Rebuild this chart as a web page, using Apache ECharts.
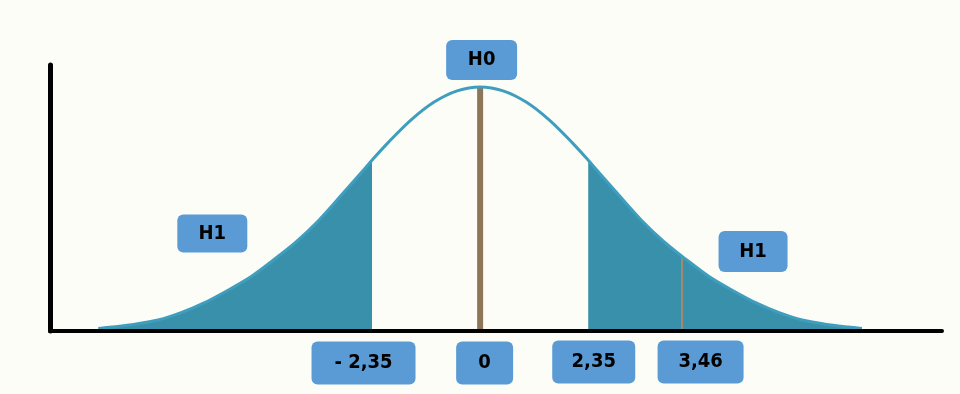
<!DOCTYPE html>
<html>
<head>
<meta charset="utf-8">
<script src="https://cdn.jsdelivr.net/npm/echarts@6/dist/echarts.min.js"></script>
<style>
  html, body { margin: 0; padding: 0; background: #FDFDF7; }
  #chart { width: 960px; height: 394px; }
</style>
</head>
<body>
<div id="chart"></div>
<script>
// ---- data ----
const curveX = [-8.3, -8, -7.5, -7, -6.5, -6, -5.5, -5, -4.5, -4, -3.5, -3, -2.5, -2.35, -2, -1.5, -1, -0.5,
                0, 0.5, 1, 1.5, 2, 2.35, 2.5, 3, 3.5, 4, 4.39, 4.5, 5, 5.5, 6, 6.5, 7, 7.5, 8, 8.3];
const curveY = [1.0, 1.6, 2.8, 4.5, 7.5, 11.5, 16.5, 22, 29, 36.5, 45.5, 56, 66.7, 70, 77.2, 86.5, 93.8, 98.4,
                100, 98.4, 93.8, 86.5, 77.2, 70, 66.7, 56, 45.5, 36.5, 30.6, 29, 22, 16.5, 11.5, 7.5, 4.5, 2.8, 1.6, 1.0];
const cutoffs = [-2.35, 2.35];
const markerPos = [-2.35, 0, 2.35, 4.39];
const markerText = ['- 2,35', '0', '2,35', '3,46'];
const hypText = ['H0', 'H1', 'H1'];
const hypX = [0, -5.8, 5.9];
const hypY = [100, 40, 33];

// ---- styling ----
const BG = '#FDFDF7';
const TEAL_FILL = '#3990AB';
const TEAL_LINE = '#3F9EBE';
const BOX = '#5B9BD5';
const BROWN = '#8E7658';
const FONT = 'DejaVu Sans Condensed, DejaVu Sans';
const markerBox = [
  { w: 104, h: 43, dx: -8.5, dy: 32 },
  { w: 57,  h: 43, dx: 4.5,  dy: 32 },
  { w: 83,  h: 43, dx: 5.5,  dy: 31 },
  { w: 86,  h: 43, dx: 18.5, dy: 31 }
];
const hypBox = [
  { w: 71, h: 40, dx: 1.5, dy: -27 },
  { w: 70, h: 38, dx: -1,  dy: 0 },
  { w: 69, h: 41, dx: 1.5, dy: 1 }
];

const pts = curveX.map((x, i) => [x, curveY[i]]);
const heightAt = x => curveY[curveX.indexOf(x)];
const leftTail = pts.filter(p => p[0] <= cutoffs[0]);
const rightTail = pts.filter(p => p[0] >= cutoffs[1]);

function boxLabel(text, b) {
  return {
    show: true,
    position: 'inside',
    formatter: text,
    offset: [b.dx, b.dy],
    width: b.w,
    height: b.h,
    lineHeight: b.h,
    align: 'center',
    verticalAlign: 'middle',
    backgroundColor: BOX,
    borderRadius: 6,
    color: '#000',
    opacity: 1,
    fontFamily: FONT,
    fontWeight: 'bold',
    fontSize: 20
  };
}

const chart = echarts.init(document.getElementById('chart'), null, { renderer: 'canvas' });
chart.setOption({
  backgroundColor: BG,
  animation: false,
  grid: { left: 50, right: 18, top: 65, bottom: 63 },
  xAxis: {
    type: 'value', min: -9.35, max: 10.04, z: 10,
    axisLine: { show: true, onZero: false, lineStyle: { color: '#000', width: 4 } },
    axisTick: { show: false }, axisLabel: { show: false }, splitLine: { show: false }
  },
  yAxis: {
    type: 'value', min: 0, max: 109, z: 10,
    axisLine: { show: true, onZero: false, lineStyle: { color: '#000', width: 5 } },
    axisTick: { show: false }, axisLabel: { show: false }, splitLine: { show: false }
  },
  series: [
    { type: 'line', data: leftTail, smooth: 0.3, symbol: 'none', lineStyle: { width: 0 },
      areaStyle: { color: TEAL_FILL, opacity: 1 }, z: 2 },
    { type: 'line', data: rightTail, smooth: 0.3, symbol: 'none', lineStyle: { width: 0 },
      areaStyle: { color: TEAL_FILL, opacity: 1 }, z: 2 },
    { type: 'line', data: [[markerPos[1], 0], [markerPos[1], heightAt(markerPos[1])]], symbol: 'none',
      lineStyle: { color: BROWN, width: 6 }, z: 3 },
    { type: 'line', data: [[markerPos[3], 0], [markerPos[3], heightAt(markerPos[3])]], symbol: 'none',
      lineStyle: { color: '#A38A6C', width: 2 }, z: 3 },
    { type: 'line', data: pts, smooth: 0.3, symbol: 'none',
      lineStyle: { color: TEAL_LINE, width: 3 }, z: 4 },
    { type: 'scatter', clip: false, symbolSize: 1, itemStyle: { color: 'rgba(0,0,0,0)', opacity: 1 }, z: 6,
      data: markerPos.map((x, i) => ({ value: [x, 0], label: boxLabel(markerText[i], markerBox[i]) })) },
    { type: 'scatter', clip: false, symbolSize: 1, itemStyle: { color: 'rgba(0,0,0,0)', opacity: 1 }, z: 6,
      data: hypX.map((x, i) => ({ value: [x, hypY[i]], label: boxLabel(hypText[i], hypBox[i]) })) }
  ]
});
</script>
</body>
</html>
